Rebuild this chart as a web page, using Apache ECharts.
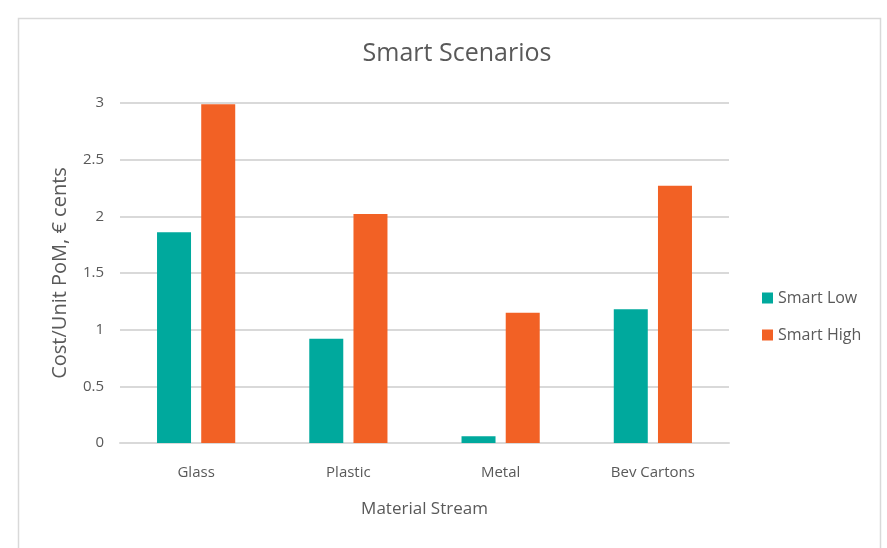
<!DOCTYPE html>
<html>
<head>
<meta charset="utf-8">
<script src="https://cdn.jsdelivr.net/npm/echarts@6/dist/echarts.min.js"></script>
<style>
  html, body { margin: 0; padding: 0; background: #fff; }
  #chart { width: 887px; height: 548px; }
</style>
</head>
<body>
<div id="chart"></div>
<script>
// data
const categories = ['Glass', 'Plastic', 'Metal', 'Bev Cartons']
const smartLow = [1.86, 0.92, 0.06, 1.18]
const smartHigh = [2.99, 2.02, 1.15, 2.27]

const textColor = '#595959'
const font = 'Open Sans'

const chart = echarts.init(document.getElementById('chart'))
chart.setOption({
  animation: false,
  title: {
    text: 'Smart Scenarios',
    left: 452,
    top: 36,
    textAlign: 'center',
    textStyle: { color: textColor, fontFamily: font, fontWeight: 'normal', fontSize: 25 }
  },
  graphic: [{
    type: 'rect',
    shape: { x: 18.5, y: 18.5, width: 862, height: 540 },
    style: { fill: 'none', stroke: '#d9d9d9', lineWidth: 1.5 },
    silent: true
  }],
  legend: {
    orient: 'vertical',
    left: 757,
    top: 285,
    itemWidth: 11,
    itemHeight: 11,
    itemGap: 21,
    icon: 'rect',
    textStyle: { color: textColor, fontFamily: font, fontSize: 16 },
    data: ['Smart Low', 'Smart High']
  },
  grid: { left: 120, right: 158, top: 103, bottom: 105 },
  xAxis: {
    type: 'category',
    data: categories,
    name: 'Material Stream',
    nameLocation: 'middle',
    nameGap: 58,
    nameTextStyle: { color: textColor, fontFamily: font, fontSize: 17 },
    axisLine: { lineStyle: { color: '#d9d9d9', width: 2 } },
    axisTick: { show: false },
    axisLabel: { color: textColor, fontFamily: font, fontSize: 15, margin: 22 }
  },
  yAxis: {
    type: 'value',
    min: 0,
    max: 3,
    interval: 0.5,
    name: 'Cost/Unit PoM, € cents',
    nameLocation: 'middle',
    nameGap: 50,
    nameTextStyle: { color: textColor, fontFamily: font, fontSize: 20 },
    axisLine: { show: false },
    axisTick: { show: false },
    splitLine: { lineStyle: { color: '#d9d9d9', width: 2 } },
    axisLabel: { color: textColor, fontFamily: font, fontSize: 15, margin: 16 }
  },
  series: [
    {
      name: 'Smart Low',
      type: 'bar',
      data: smartLow,
      barWidth: 34,
      barGap: '30%',
      itemStyle: { color: '#00A99D' }
    },
    {
      name: 'Smart High',
      type: 'bar',
      data: smartHigh,
      barWidth: 34,
      itemStyle: { color: '#F26125' }
    }
  ]
})
</script>
</body>
</html>
